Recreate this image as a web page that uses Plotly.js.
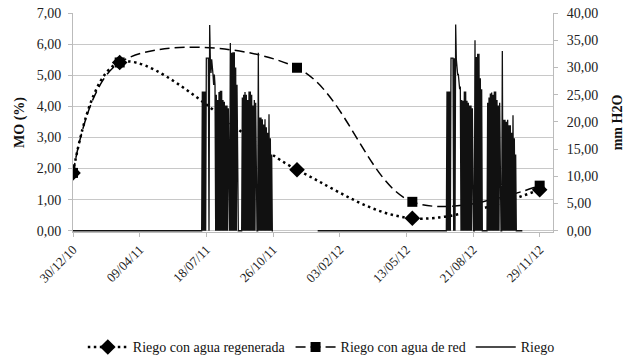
<!DOCTYPE html>
<html><head><meta charset="utf-8">
<script src="https://cdn.plot.ly/plotly-3.0.1.min.js"></script>
<style>html,body{margin:0;padding:0;background:#fff}#chart{width:630px;height:360px}</style>
</head><body><div id="chart"></div>
<script>
// Materia orgánica (MO %)
const moFechas = ['2010-12-30','2011-03-10','2011-12-01','2012-05-22','2012-11-29'];
const moRegenerada = [1.86, 5.41, 1.96, 0.40, 1.32];
const moRed = [1.86, 5.41, 5.24, 0.93, 1.45];

// Riego (mm H2O): periods with daily record and irrigation days
const riegoPeriodos = [['2010-12-30','2011-10-26'], ['2012-01-01','2012-11-03']];
const riegoFechas = [
 '2011-07-12','2011-07-14','2011-07-16','2011-07-18','2011-07-19','2011-07-20','2011-07-21','2011-07-23',
 '2011-07-24','2011-07-25','2011-07-26','2011-07-27','2011-07-28','2011-07-29','2011-07-30','2011-07-31',
 '2011-08-02','2011-08-04','2011-08-06','2011-08-08','2011-08-10','2011-08-12','2011-08-14','2011-08-16',
 '2011-08-18','2011-08-20','2011-08-23','2011-08-25','2011-08-27','2011-08-29','2011-08-31','2011-09-02',
 '2011-09-10','2011-09-12','2011-09-14','2011-09-16','2011-09-18','2011-09-20','2011-09-22','2011-09-24',
 '2011-09-26','2011-09-28','2011-09-30','2011-10-04','2011-10-06','2011-10-08','2011-10-10','2011-10-12',
 '2011-10-14','2011-10-16','2011-10-18','2011-10-20','2011-10-22','2011-10-24',
 '2012-07-13','2012-07-15','2012-07-17','2012-07-19','2012-07-20','2012-07-21','2012-07-22','2012-07-24',
 '2012-07-26','2012-07-27','2012-07-28','2012-07-29','2012-07-30','2012-07-31','2012-08-01','2012-08-02',
 '2012-08-04','2012-08-06','2012-08-08','2012-08-10','2012-08-12','2012-08-14','2012-08-16','2012-08-18',
 '2012-08-20','2012-08-24','2012-08-26','2012-08-28','2012-08-30','2012-09-01','2012-09-03',
 '2012-09-12','2012-09-14','2012-09-16','2012-09-18','2012-09-20','2012-09-22','2012-09-24','2012-09-26',
 '2012-09-28','2012-09-30','2012-10-04','2012-10-06','2012-10-08','2012-10-10','2012-10-12','2012-10-14',
 '2012-10-16','2012-10-18','2012-10-20','2012-10-22','2012-10-24'
];
const riegoMm = [
 25.6,25.6,25.6,31.7,31.7,31.7,31.7,37.8,
 31.5,29.0,31.5,28.7,28.7,26.8,28.7,26.8,
 25.0,24.0,25.5,25.7,25.7,24.0,23.7,23.0,
 23.0,22.5,34.5,32.7,32.8,32.8,30.0,26.8,
 24.5,25.0,25.5,25.0,24.0,25.6,25.6,25.0,
 23.0,24.0,23.5,32.7,20.8,20.8,20.5,19.5,
 20.5,19.0,18.0,21.4,17.0,14.0,
 25.6,25.6,25.6,31.7,31.7,31.7,31.7,31.7,
 37.9,31.5,29.0,28.7,28.7,26.5,26.0,26.5,
 24.0,23.9,25.6,25.6,23.9,23.5,23.0,23.0,
 22.5,35.0,31.9,32.5,32.5,28.0,26.0,
 23.5,24.5,25.2,25.4,25.0,25.6,25.6,24.0,
 23.0,23.5,33.0,20.4,20.4,20.0,20.4,19.4,
 19.4,18.0,21.2,17.0,14.0
];

const xTicks = ['2010-12-30','2011-04-09','2011-07-18','2011-10-26','2012-02-03','2012-05-13','2012-08-21','2012-11-29'];
const xRange = ['2010-12-30','2012-12-19'];
const nombres = ['Riego con agua regenerada','Riego con agua de red','Riego'];

// Build the daily Riego line (0 on non-irrigation days, gap between periods)
const DAY = 86400000;
const toMs = s => Date.parse(s + 'T00:00:00Z');
const riegoMap = {};
riegoFechas.forEach((f, i) => { riegoMap[f] = riegoMm[i]; });
const rx = [], ry = [];
riegoPeriodos.forEach(([a, b], k) => {
  if (k > 0) { rx.push(new Date(toMs(a) - DAY * 10).toISOString().slice(0, 10)); ry.push(null); }
  for (let t = toMs(a); t <= toMs(b); t += DAY) {
    const s = new Date(t).toISOString().slice(0, 10);
    rx.push(s); ry.push(riegoMap[s] !== undefined ? riegoMap[s] : 0);
  }
});

const FONT = '"Liberation Serif", "Times New Roman", serif';
const data = [
  {x: moFechas, y: moRegenerada, name: nombres[0], type: 'scatter', mode: 'lines+markers',
   line: {shape: 'spline', smoothing: 1, color: '#000', width: 2.5, dash: '2.5px,3.5px'},
   marker: {symbol: 'diamond', size: 12, color: '#000'}},
  {x: moFechas, y: moRed, name: nombres[1], type: 'scatter', mode: 'lines+markers',
   line: {shape: 'spline', smoothing: 1, color: '#000', width: 1.5, dash: '10px,5px'},
   marker: {symbol: 'square', size: 10, color: '#000'}},
  {x: rx, y: ry, name: nombres[2], type: 'scatter', mode: 'lines', yaxis: 'y2',
   line: {color: '#111', width: 1.3}}
];

const layout = {
  width: 630, height: 360,
  margin: {l: 73, r: 77, t: 13, b: 128, autoexpand: false},
  paper_bgcolor: '#fff', plot_bgcolor: '#fff',
  separators: ',.',
  font: {family: FONT, size: 14, color: '#222'},
  showlegend: true,
  legend: {orientation: 'h', xref: 'container', yref: 'container', x: 0.51, xanchor: 'center',
           y: 0.035, yanchor: 'middle',
           font: {family: FONT, size: 14, color: '#111'}, itemwidth: 40},
  xaxis: {type: 'date', range: xRange, tickvals: xTicks, tickformat: '%d/%m/%y', tickangle: -45,
          showgrid: false, showline: true, linecolor: '#bbb', linewidth: 1,
          ticks: 'outside', ticklen: 4, tickcolor: '#bbb', zeroline: false,
          tickfont: {family: FONT, size: 13, color: '#222'}},
  yaxis: {range: [-0.04, 7], dtick: 1, tickformat: '.2f', showgrid: true, gridcolor: '#c8c8c8', gridwidth: 1,
          showline: true, linecolor: '#bbb', ticks: 'outside', ticklen: 4, tickcolor: '#bbb', zeroline: false,
          ticklabelstandoff: 4,
          tickfont: {family: FONT, size: 14, color: '#222'},
          title: {text: 'MO (%)', font: {family: FONT, size: 14, color: '#111', weight: 'bold'}, standoff: 8}},
  yaxis2: {range: [-0.23, 40], dtick: 5, tickformat: '.2f', overlaying: 'y', side: 'right', showgrid: false,
           showline: true, linecolor: '#bbb', ticks: 'outside', ticklen: 4, tickcolor: '#bbb', zeroline: false,
           ticklabelstandoff: 6,
           tickfont: {family: FONT, size: 14, color: '#222'},
           title: {text: 'mm H2O', font: {family: FONT, size: 14, color: '#111', weight: 'bold'}, standoff: 14}}
};

Plotly.newPlot('chart', data, layout, {staticPlot: true, displayModeBar: false});
</script>
</body></html>
